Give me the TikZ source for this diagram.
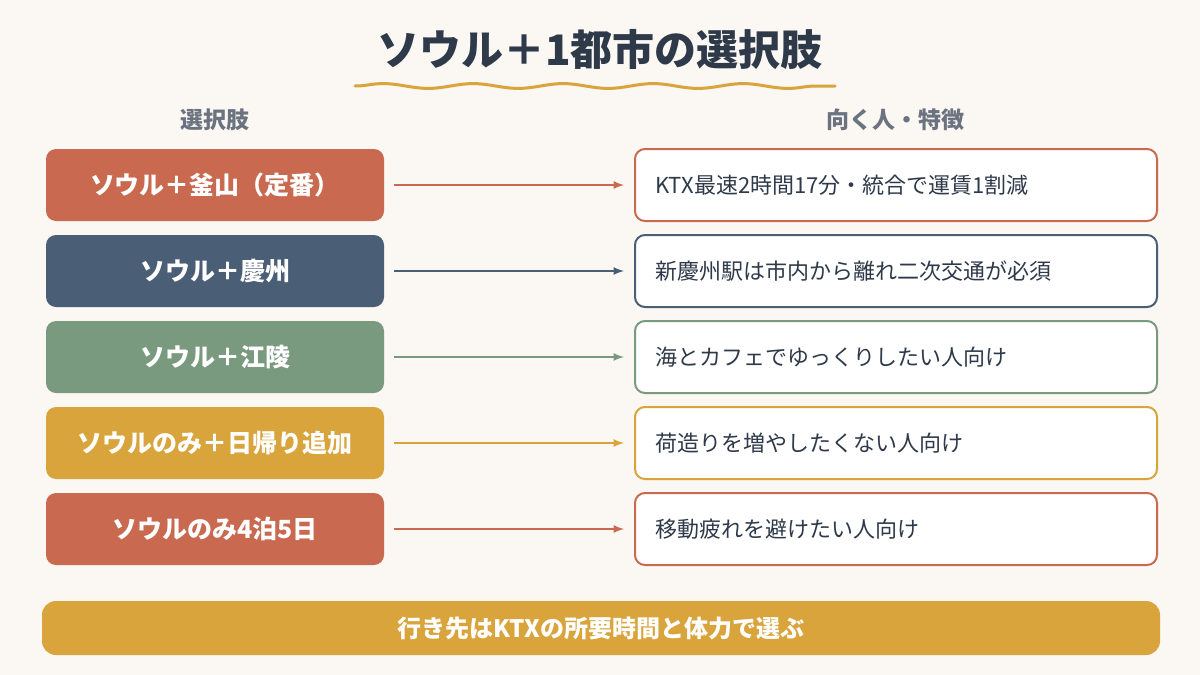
\documentclass[tikz,border=0pt]{standalone}
\usepackage{fontspec}
\setmainfont{Noto Sans CJK JP}
\usetikzlibrary{decorations.pathmorphing}
\definecolor{bgc}{HTML}{FBF7F2}
\definecolor{terra}{HTML}{C96A50}
\definecolor{navy}{HTML}{4A5E75}
\definecolor{sage}{HTML}{7A9A80}
\definecolor{mustard}{HTML}{D9A43C}
\definecolor{ink}{HTML}{2E3A4A}
\definecolor{greytxt}{HTML}{6B7280}
\tikzset{
  choice/.style={rounded corners=5pt, fill=#1, draw=none, minimum width=169pt, minimum height=36pt, text=white, font=\bfseries\fontsize{12.5}{14}\selectfont},
  trait/.style={rounded corners=5pt, fill=white, draw=#1, line width=1pt, minimum width=261pt, minimum height=36pt, text width=241pt, align=left, font=\fontsize{11}{13}\selectfont, text=ink},
  link/.style={draw=#1, line width=0.8pt, -latex},
  header/.style={text=greytxt, font=\bfseries\fontsize{11.5}{13}\selectfont}
}
\begin{document}
\begin{tikzpicture}[x=0.5pt, y=-0.5pt]
  \useasboundingbox[fill=bgc] (0,0) rectangle (1200,675);

  % title
  \node[text=ink, font=\bfseries\fontsize{21}{24}\selectfont] (title) at (600,50) {ソウル＋1都市の選択肢};
  \draw[mustard, line width=1.5pt, line cap=round, decorate, decoration={snake, amplitude=1.2pt, segment length=45pt}] (355,86) -- (835,86);

  % headers
  \node[header] (hleft) at (215,120) {選択肢};
  \node[header] (hright) at (895,120) {向く人・特徴};

  % rows
  \foreach \y/\col/\left/\right [count=\i] in {
      185/terra/{ソウル＋釜山（定番）}/{KTX最速2時間17分・統合で運賃1割減},
      271/navy/{ソウル＋慶州}/{新慶州駅は市内から離れ二次交通が必須},
      357/sage/{ソウル＋江陵}/{海とカフェでゆっくりしたい人向け},
      443/mustard/{ソウルのみ＋日帰り追加}/{荷造りを増やしたくない人向け},
      529/terra/{ソウルのみ4泊5日}/{移動疲れを避けたい人向け}} {
    \node[choice=\col] (c\i) at (215,\y) {\left};
    \node[trait=\col] (t\i) at (896,\y) {\right};
    \draw[link=\col] (c\i.east) ++(5pt,0) coordinate (s\i) -- ([xshift=-5pt]t\i.west);
  }

  % bottom bar
  \node[rounded corners=7pt, fill=mustard, minimum width=559pt, minimum height=27pt, text=white, font=\bfseries\fontsize{12}{14}\selectfont] (bar) at (601,628) {行き先はKTXの所要時間と体力で選ぶ};
\end{tikzpicture}
\end{document}
